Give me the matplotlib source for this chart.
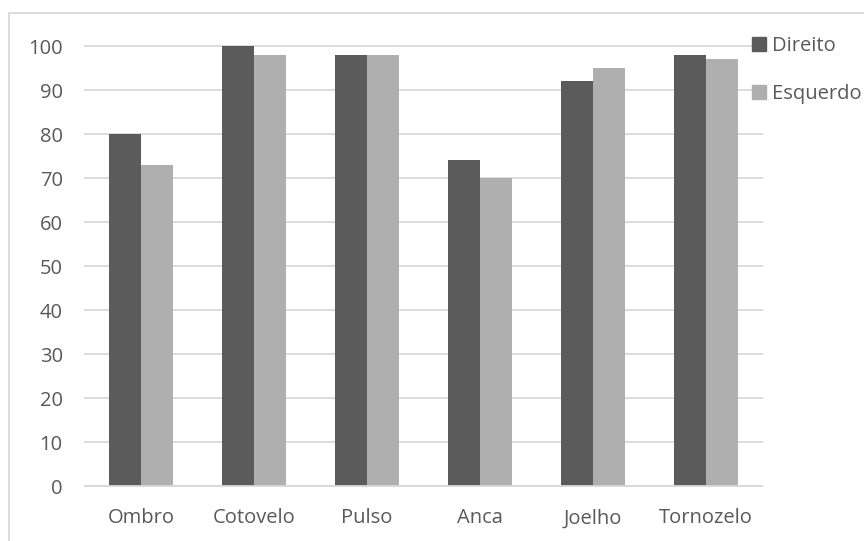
import matplotlib.pyplot as plt
import numpy as np
from matplotlib.patches import Rectangle, Patch

categories = ["Ombro", "Cotovelo", "Pulso", "Anca", "Joelho", "Tornozelo"]
direito = [80, 100, 98, 74, 92, 98]
esquerdo = [73, 98, 98, 70, 95, 97]
series_names = ["Direito", "Esquerdo"]

dark = "#5b5b5b"
light = "#afafaf"
grid_c = "#d9d9d9"
text_c = "#595959"

plt.rcParams["font.family"] = ["Open Sans", "DejaVu Sans"]

W, H = 864, 541
fig = plt.figure(figsize=(W / 100, H / 100), dpi=100)

# outer chart frame (only top and left edges fall inside the image)
fig.patches.append(Rectangle((9 / W, -0.1), 1.2, 1 - 13 / H + 0.1,
                             transform=fig.transFigure, fill=False,
                             edgecolor=grid_c, linewidth=1.3))

ax = fig.add_axes([85 / W, 1 - 486 / H, (762 - 85) / W, (486 - 46) / H])
x = np.arange(len(categories))
w = 0.284
ax.bar(x - w / 2, direito, w, color=dark, zorder=2)
ax.bar(x + w / 2, esquerdo, w, color=light, zorder=2)

ax.set_xlim(-0.5, len(categories) - 0.5)
ax.set_ylim(0, 100)
ax.set_yticks(range(0, 101, 10))
ax.set_xticks(x)
ax.set_xticklabels(categories)
ax.yaxis.grid(True, color=grid_c, linewidth=1.3, zorder=0)
ax.set_axisbelow(True)
for s in ["top", "right", "left"]:
    ax.spines[s].set_visible(False)
ax.spines["bottom"].set_color(grid_c)
ax.spines["bottom"].set_linewidth(1.3)
ax.tick_params(length=0, labelsize=14.5, colors=text_c)
ax.tick_params(axis="y", pad=16)
ax.tick_params(axis="x", pad=16)
for gl in ax.get_ygridlines():
    gl.set_clip_on(False)

handles = [Patch(color=dark), Patch(color=light)]
fig.legend(handles, series_names, loc="upper left", bbox_to_anchor=(752 / W, 1 - 36 / H),
           frameon=False, fontsize=14.5, labelcolor=text_c, handlelength=0.68,
           handleheight=0.68, handletextpad=0.3, labelspacing=1.4, borderaxespad=0,
           borderpad=0)

fig.savefig("out.png", dpi=100)
